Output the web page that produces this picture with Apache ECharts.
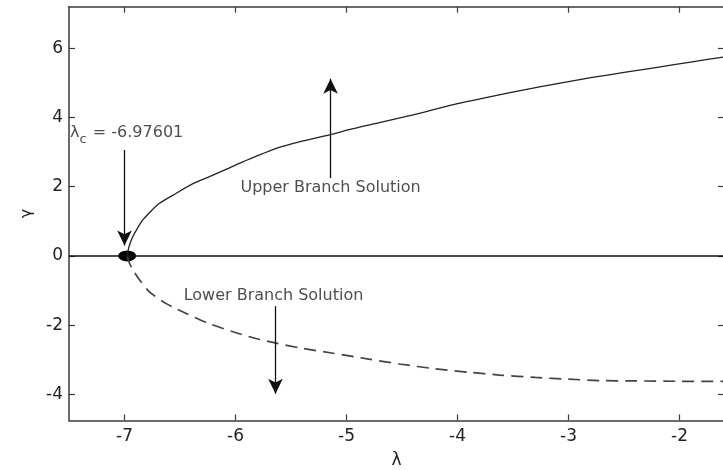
<!DOCTYPE html>
<html>
<head>
<meta charset="utf-8">
<script src="https://cdn.jsdelivr.net/npm/echarts@6/dist/echarts.min.js"></script>
<style>
  html, body { margin: 0; padding: 0; background: #fff; }
  #chart { width: 723px; height: 470px; }
</style>
</head>
<body>
<div id="chart"></div>
<script>
// Critical point of the fold
const lambdaC = -6.97601;

// Upper branch (solid)
const upperLambda = [-6.97601, -6.965, -6.95, -6.925, -6.88, -6.835, -6.76, -6.685, -6.534, -6.40, -6.234, -6.08, -5.934, -5.633, -5.40, -5.153, -4.95, -4.732, -4.50, -4.282, -4.00, -3.70, -3.40, -3.10, -2.80, -2.50, -2.20, -1.90, -1.60];
const upperGamma  = [0, 0.20, 0.36, 0.56, 0.82, 1.04, 1.30, 1.52, 1.81, 2.06, 2.29, 2.51, 2.72, 3.11, 3.32, 3.50, 3.67, 3.83, 4.00, 4.17, 4.40, 4.60, 4.80, 4.98, 5.15, 5.30, 5.45, 5.60, 5.75];

// Lower branch (dashed)
const lowerLambda = [-6.97601, -6.955, -6.92, -6.865, -6.78, -6.655, -6.55, -6.444, -6.25, -6.024, -5.833, -5.633, -5.40, -5.123, -4.80, -4.523, -4.20, -3.90, -3.622, -3.30, -3.00, -2.72, -2.40, -2.00, -1.60];
const lowerGamma  = [0, -0.21, -0.42, -0.69, -1.02, -1.32, -1.50, -1.66, -1.94, -2.19, -2.37, -2.52, -2.67, -2.81, -2.98, -3.12, -3.26, -3.36, -3.44, -3.51, -3.56, -3.60, -3.61, -3.62, -3.62];

// Trivial solution gamma = 0
const zeroLambda = [-7.5, -1.6];
const zeroGamma  = [0, 0];

// Tick values
const xTicks = [-7, -6, -5, -4, -3, -2];
const yTicks = [-4, -2, 0, 2, 4, 6];

const pairs = (xs, ys) => xs.map((x, i) => [x, ys[i]]);

const axisColor = '#3a3a3a';
const textColor = '#222';
const font = 'DejaVu Sans, Verdana, sans-serif';

const tickStyle = { show: true, inside: true, length: 6, lineStyle: { color: axisColor, width: 1.2 } };

const chart = echarts.init(document.getElementById('chart'), null, { renderer: 'canvas' });

chart.setOption({
  animation: false,
  backgroundColor: '#fff',
  grid: { left: 69, right: -1, top: 6.7, bottom: 49.6, containLabel: false, outerBoundsMode: 'none' },
  xAxis: [
    {
      type: 'value', position: 'bottom', min: -7.5, max: -1.6,
      name: 'λ', nameLocation: 'middle', nameGap: 32,
      nameTextStyle: { color: textColor, fontSize: 17, fontFamily: font },
      axisLine: { show: true, onZero: false, lineStyle: { color: axisColor, width: 1.5 } },
      axisTick: Object.assign({}, tickStyle, { customValues: xTicks }),
      axisLabel: { customValues: xTicks, color: textColor, fontSize: 17, fontFamily: font, margin: 8 },
      splitLine: { show: false }
    },
    {
      type: 'value', position: 'top', min: -7.5, max: -1.6,
      axisLine: { show: true, onZero: false, lineStyle: { color: axisColor, width: 1.5 } },
      axisTick: Object.assign({}, tickStyle, { customValues: xTicks }),
      axisLabel: { show: false },
      splitLine: { show: false }
    }
  ],
  yAxis: [
    {
      type: 'value', position: 'left', min: -4.75, max: 7.2,
      name: 'γ', nameLocation: 'middle', nameGap: 31,
      nameTextStyle: { color: textColor, fontSize: 16, fontFamily: font },
      axisLine: { show: true, onZero: false, lineStyle: { color: axisColor, width: 1.5 } },
      axisTick: Object.assign({}, tickStyle, { customValues: yTicks }),
      axisLabel: { customValues: yTicks, color: textColor, fontSize: 17, fontFamily: font, margin: 6 },
      splitLine: { show: false }
    },
    {
      type: 'value', position: 'right', min: -4.75, max: 7.2,
      axisLine: { show: true, onZero: false, lineStyle: { color: axisColor, width: 1.5 } },
      axisTick: Object.assign({}, tickStyle, { customValues: yTicks }),
      axisLabel: { show: false },
      splitLine: { show: false }
    }
  ],
  series: [
    {
      name: 'Upper Branch Solution', type: 'line', showSymbol: false, smooth: 0.25,
      data: pairs(upperLambda, upperGamma),
      lineStyle: { color: '#222', width: 1.3 }
    },
    {
      name: 'Lower Branch Solution', type: 'line', showSymbol: false, smooth: 0.25,
      data: pairs(lowerLambda, lowerGamma),
      lineStyle: { color: '#444', width: 1.7, type: [12, 7] }
    },
    {
      name: 'Trivial', type: 'line', showSymbol: false,
      data: pairs(zeroLambda, zeroGamma),
      lineStyle: { color: '#111', width: 1.5 },
      markLine: {
        silent: true,
        symbol: ['none', 'arrow'],
        symbolSize: [11, 15],
        label: { show: false },
        lineStyle: { color: '#111', width: 1.3, type: 'solid' },
        data: [
          [{ coord: [-7.0, 3.06] }, { coord: [-7.0, 0.30] }],
          [{ coord: [-5.144, 2.25] }, { coord: [-5.144, 5.12] }],
          [{ coord: [-5.64, -1.45] }, { coord: [-5.64, -3.98] }]
        ]
      }
    },
    {
      name: 'Critical point', type: 'scatter',
      data: [[lambdaC, 0]],
      symbol: 'circle', symbolSize: [18, 11],
      itemStyle: { color: '#000', opacity: 1 }
    },
    {
      name: 'Annotations', type: 'scatter', symbolSize: 0, silent: true,
      data: [
        {
          value: [-7.49, 3.55],
          label: {
            show: true, position: 'right', distance: 0,
            formatter: '{a|λ}{b|c}{a| = -6.97601}',
            rich: {
              a: { fontSize: 16, color: textColor, fontFamily: font, lineHeight: 22 },
              b: { fontSize: 13, color: textColor, fontFamily: font, lineHeight: 22, padding: [13, 1, 0, 0] }
            }
          }
        },
        {
          value: [-5.144, 1.96],
          label: { show: true, position: 'inside', formatter: 'Upper Branch Solution', fontSize: 16, color: textColor, fontFamily: font }
        },
        {
          value: [-5.658, -1.155],
          label: { show: true, position: 'inside', formatter: 'Lower Branch Solution', fontSize: 16, color: textColor, fontFamily: font }
        }
      ]
    }
  ]
});
</script>
</body>
</html>
